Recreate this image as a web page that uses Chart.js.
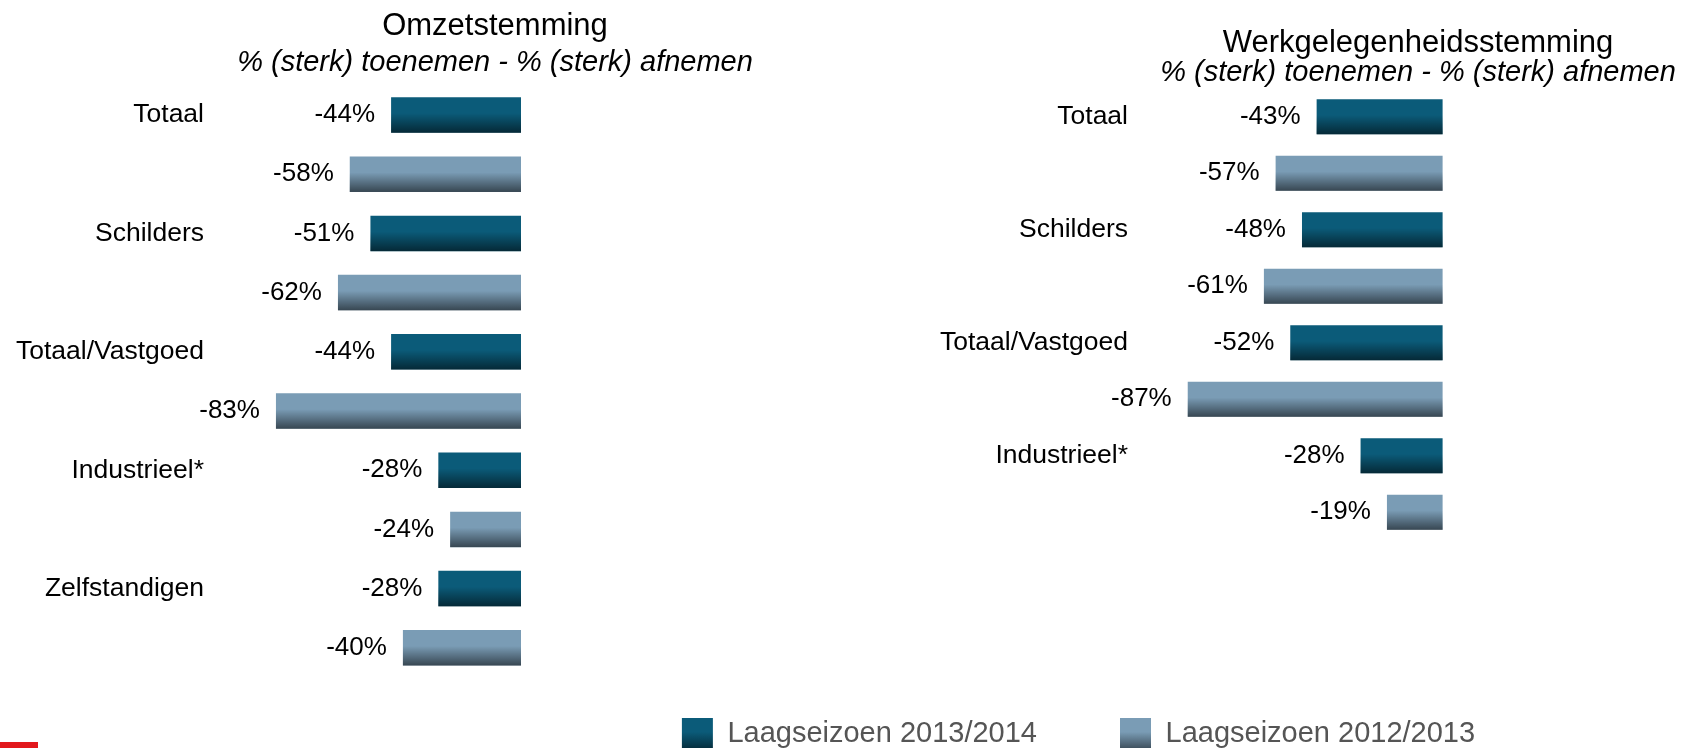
<!DOCTYPE html>
<html>
<head>
<meta charset="utf-8">
<script src="https://cdn.jsdelivr.net/npm/chart.js@4/dist/chart.umd.min.js"></script>
<style>
html,body{margin:0;padding:0;background:#fff;overflow:hidden;width:1684px;height:748px}
canvas{position:absolute;top:0}
#c1{left:0}
#c2{left:473px}
#logo{position:absolute;left:0;top:742px;width:38px;height:6px;background:#e2181d}
</style>
</head>
<body>
<canvas id="c1" width="760" height="710"></canvas>
<canvas id="c2" width="1211" height="759"></canvas>
<div id="logo"></div>
<script>
// data
const cats1=['Totaal','Schilders','Totaal/Vastgoed','Industrieel*','Zelfstandigen']
const omzet1314=[-44,-51,-44,-28,-28]
const omzet1213=[-58,-62,-83,-24,-40]

const cats2=['Totaal','Schilders','Totaal/Vastgoed','Industrieel*']
const werk1314=[-43,-48,-52,-28]
const werk1213=[-57,-61,-87,-19]

const seriesNames=['Laagseizoen 2013/2014','Laagseizoen 2012/2013']
const titles=['Omzetstemming','Werkgelegenheidsstemming']
const subTitle='% (sterk) toenemen - % (sterk) afnemen'

const FONT='"Liberation Sans", Arial, sans-serif'
const cols=['#0b5b79','#7a9cb5']
const colsDark=['#052d3c','#3d4e5b']

Chart.defaults.font.family=FONT
Chart.defaults.color='#000'

// darker lower part of every bar
const shade={id:'shade',afterDatasetsDraw(chart){
  const c=chart.ctx
  c.save()
  chart.data.datasets.forEach((ds,i)=>{
    chart.getDatasetMeta(i).data.forEach(el=>{
      const p=el.getProps(['x','y','base','height'],true)
      const l=Math.min(p.x,p.base),w=Math.abs(p.base-p.x),t=p.y-p.height/2
      const g=c.createLinearGradient(0,t,0,t+p.height)
      g.addColorStop(0.45,'rgba(0,0,0,0)')
      g.addColorStop(1,'rgba(0,0,0,0.55)')
      c.fillStyle=g
      c.fillRect(l,t,w,p.height)
    })
  })
  c.restore()
}}

// value text left of each bar
const valueLabels={id:'valueLabels',afterDatasetsDraw(chart){
  const c=chart.ctx
  c.save()
  c.font='26px '+FONT
  c.fillStyle='#000'
  c.textAlign='right'
  c.textBaseline='middle'
  chart.data.datasets.forEach((ds,i)=>{
    chart.getDatasetMeta(i).data.forEach((el,j)=>{
      const p=el.getProps(['x','y','base'],true)
      c.fillText(ds.data[j]+'%',Math.min(p.x,p.base)-16,p.y)
    })
  })
  c.restore()
}}

// title + italic subtitle
const heads={id:'heads',afterDraw(chart,args,o){
  const c=chart.ctx
  c.save()
  c.fillStyle='#000'
  c.textAlign='center'
  c.textBaseline='middle'
  c.font='31px '+FONT
  c.fillText(o.title,o.x,o.y1)
  c.font='italic 29px '+FONT
  c.fillText(o.sub,o.x,o.y2)
  c.restore()
}}

function datasets(a,b){
  return [a,b].map((d,i)=>({label:seriesNames[i],data:d,backgroundColor:cols[i],borderWidth:0}))
}

function yAxis(w,off){
  return {
    grid:{display:false,drawTicks:false},border:{display:false},
    ticks:{color:'#000',font:{size:26.5},padding:7,labelOffset:off,autoSkip:false},
    afterFit:s=>{s.width=w}
  }
}

const ch1=new Chart(document.getElementById('c1'),{
  type:'bar',
  data:{labels:cats1,datasets:datasets(omzet1314,omzet1213)},
  options:{
    indexAxis:'y',responsive:false,animation:false,
    categoryPercentage:1,barPercentage:0.6,
    layout:{padding:{top:85.4,bottom:32.6,right:239,left:0}},
    scales:{
      x:{display:false,min:-105,max:0},
      y:yAxis(211,-29.6)
    },
    plugins:{
      legend:{display:false},tooltip:{enabled:false},
      heads:{title:titles[0],sub:subTitle,x:495,y1:26,y2:62.5}
    }
  },
  plugins:[shade,valueLabels,heads]
})

const ch2=new Chart(document.getElementById('c2'),{
  type:'bar',
  data:{labels:cats2,datasets:datasets(werk1314,werk1213)},
  options:{
    indexAxis:'y',responsive:false,animation:false,
    categoryPercentage:1,barPercentage:0.62,
    layout:{padding:{top:88.55,bottom:0,right:0,left:0}},
    scales:{
      x:{min:-105,max:82.4,grid:{display:false},border:{display:false},ticks:{display:false},
        afterFit:s=>{s.height=94.45}},
      y:yAxis(662,-28.25)
    },
    plugins:{
      tooltip:{enabled:false},
      legend:{
        position:'bottom',
        labels:{
          color:'#555',font:{size:29},boxWidth:31,boxHeight:31,padding:83,
          generateLabels(chart){
            const items=Chart.defaults.plugins.legend.labels.generateLabels(chart)
            const top=chart.height-41
            items.forEach((it,i)=>{
              const g=chart.ctx.createLinearGradient(0,top,0,top+31)
              g.addColorStop(0,cols[i])
              g.addColorStop(0.45,cols[i])
              g.addColorStop(1,colsDark[i])
              it.fillStyle=g
              it.lineWidth=0
              it.strokeStyle='rgba(0,0,0,0)'
            })
            return items
          }
        }
      },
      heads:{title:titles[1],sub:subTitle,x:945,y1:43,y2:72.5}
    }
  },
  plugins:[shade,valueLabels,heads]
})
</script>
</body>
</html>
